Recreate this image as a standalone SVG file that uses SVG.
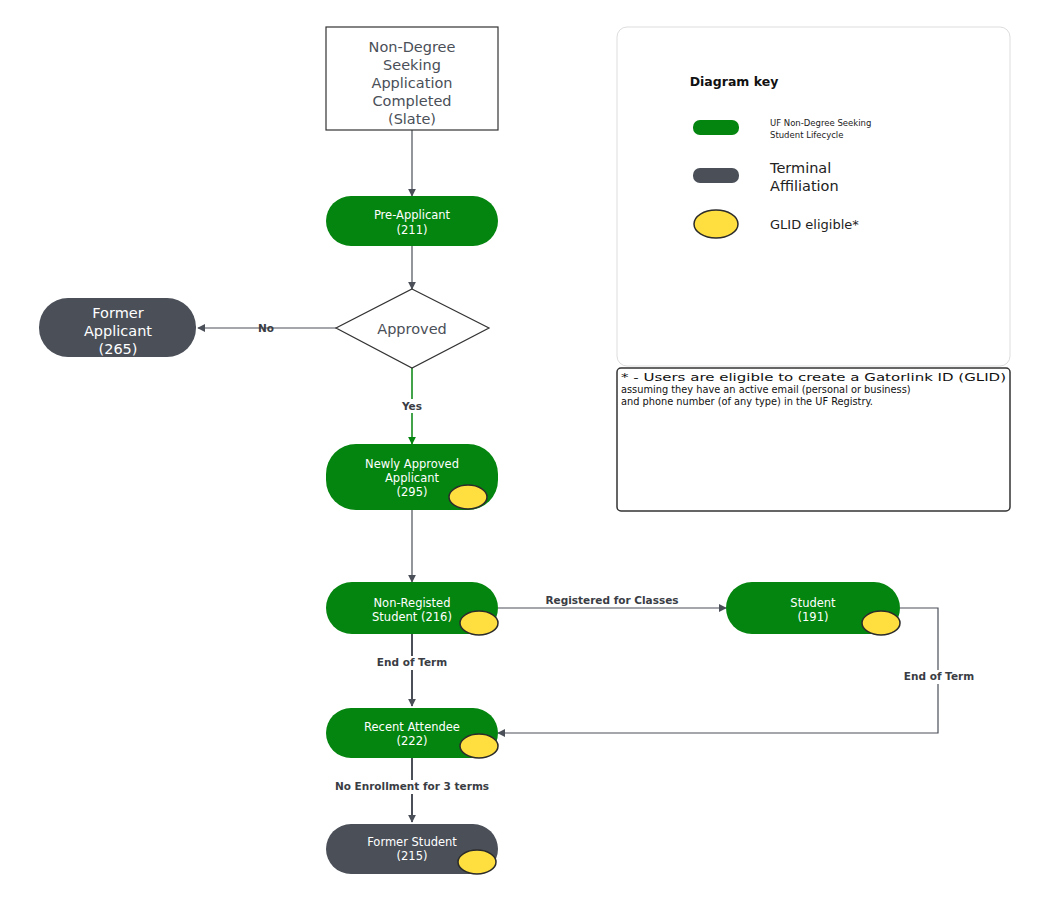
<svg xmlns="http://www.w3.org/2000/svg" width="1050" height="900" viewBox="0 0 1050 900">
<defs>
<style>
text{font-family:"DejaVu Sans","Liberation Sans",sans-serif;text-anchor:middle}
.g{fill:#04850f}
.d{fill:#4a4f58}
.w{fill:#fff;font-size:11.5px}
.wl{fill:#fff;font-size:14.5px}
.k{fill:#3a3d44;font-size:10.5px;font-weight:bold}
.y{fill:#ffdf3f;stroke:#2b2b2b;stroke-width:1.5}
.c{fill:none;stroke:#4a4f58;stroke-width:1.2}
.cb{fill:none;stroke:#4a4f58;stroke-width:2}
.n{font-size:9.8px;fill:#111;text-anchor:start}
</style>
<marker id="a" viewBox="0 0 10 10" refX="9" refY="5" markerWidth="8" markerHeight="8" markerUnits="userSpaceOnUse" orient="auto"><path d="M0,0L10,5L0,10z" fill="#4a4f58"/></marker>
<marker id="ag" viewBox="0 0 10 10" refX="9" refY="5" markerWidth="8" markerHeight="8" markerUnits="userSpaceOnUse" orient="auto"><path d="M0,0L10,5L0,10z" fill="#04850f"/></marker>
</defs>
<rect width="1050" height="900" fill="#fff"/>
<g id="connectors">
<path class="c" d="M412,130V196" marker-end="url(#a)"/>
<path class="c" d="M412,246V289" marker-end="url(#a)"/>
<path class="c" d="M336,328H198" marker-end="url(#a)"/>
<text class="k" x="266" y="332">No</text>
<path d="M412,368V444" fill="none" stroke="#04850f" stroke-width="1.5" marker-end="url(#ag)"/>
<rect x="395" y="399" width="34" height="14" fill="#fff"/>
<text class="k" x="412" y="410">Yes</text>
<path class="c" d="M412,510V582" marker-end="url(#a)"/>
<path class="c" d="M498,608H726" marker-end="url(#a)"/>
<text class="k" x="612" y="604">Registered for Classes</text>
<path class="cb" d="M412,634V706" marker-end="url(#a)"/>
<rect x="362" y="656" width="100" height="14" fill="#fff"/>
<text class="k" x="412" y="666">End of Term</text>
<path class="c" d="M900,608H938V733H498" marker-end="url(#a)"/>
<rect x="889" y="670" width="100" height="14" fill="#fff"/>
<text class="k" x="939" y="680">End of Term</text>
<path class="cb" d="M412,758V822" marker-end="url(#a)"/>
<rect x="308" y="780" width="208" height="14" fill="#fff"/>
<text class="k" x="412" y="790">No Enrollment for 3 terms</text>
</g>
<g id="n-app">
<rect x="326" y="27" width="172" height="103" fill="#fff" stroke="#333" stroke-width="1.2"/>
<text x="412" y="52" font-size="14.5" fill="#4a4f58">Non-Degree</text>
<text x="412" y="70" font-size="14.5" fill="#4a4f58">Seeking</text>
<text x="412" y="88" font-size="14.5" fill="#4a4f58">Application</text>
<text x="412" y="106" font-size="14.5" fill="#4a4f58">Completed</text>
<text x="412" y="124" font-size="14.5" fill="#4a4f58">(Slate)</text>
</g>
<g id="n-pre">
<rect class="g" x="326" y="196" width="172" height="50" rx="25"/>
<text class="w" x="412" y="219">Pre-Applicant</text>
<text class="w" x="412" y="234">(211)</text>
</g>
<g id="n-approved">
<path d="M412,289L489,328L412,368L336,328Z" fill="#fff" stroke="#333" stroke-width="1.2"/>
<text x="412" y="334" font-size="14.5" fill="#4a4f58">Approved</text>
</g>
<g id="n-former-app">
<rect class="d" x="39" y="298" width="157" height="59" rx="29"/>
<text class="wl" x="118" y="318">Former</text>
<text class="wl" x="118" y="336">Applicant</text>
<text class="wl" x="118" y="354">(265)</text>
</g>
<g id="n-newly">
<rect class="g" x="326" y="444" width="172" height="66" rx="30"/>
<text class="w" x="412" y="468">Newly Approved</text>
<text class="w" x="412" y="482">Applicant</text>
<text class="w" x="412" y="496">(295)</text>
<ellipse class="y" cx="468" cy="497" rx="19" ry="12"/>
</g>
<g id="n-nonreg">
<rect class="g" x="326" y="582" width="172" height="52" rx="26"/>
<text class="w" x="412" y="607">Non-Registed</text>
<text class="w" x="412" y="621">Student (216)</text>
<ellipse class="y" cx="479" cy="623" rx="19" ry="12"/>
</g>
<g id="n-student">
<rect class="g" x="726" y="582" width="174" height="52" rx="26"/>
<text class="w" x="813" y="607">Student</text>
<text class="w" x="813" y="621">(191)</text>
<ellipse class="y" cx="881" cy="623" rx="19" ry="12"/>
</g>
<g id="n-recent">
<rect class="g" x="326" y="708" width="172" height="50" rx="25"/>
<text class="w" x="412" y="731">Recent Attendee</text>
<text class="w" x="412" y="745">(222)</text>
<ellipse class="y" cx="479" cy="746" rx="19" ry="12"/>
</g>
<g id="n-former-stu">
<rect class="d" x="326" y="824" width="172" height="50" rx="25"/>
<text class="w" x="412" y="846">Former Student</text>
<text class="w" x="412" y="860">(215)</text>
<ellipse class="y" cx="477" cy="862" rx="19" ry="12"/>
</g>
<g id="key">
<rect x="617" y="27" width="393" height="339" rx="10" fill="#fff" stroke="#ddd"/>
<text x="734" y="86" font-size="12.5" font-weight="bold" fill="#111">Diagram key</text>
<rect class="g" x="693" y="120" width="46" height="15" rx="7"/>
<text x="770" y="126" font-size="8.5" fill="#222" style="text-anchor:start">UF Non-Degree Seeking</text>
<text x="770" y="138" font-size="8.5" fill="#222" style="text-anchor:start">Student Lifecycle</text>
<rect class="d" x="693" y="168" width="46" height="15" rx="7"/>
<text x="770" y="173" font-size="14.5" fill="#222" style="text-anchor:start">Terminal</text>
<text x="770" y="191" font-size="14.5" fill="#222" style="text-anchor:start">Affiliation</text>
<ellipse class="y" cx="716" cy="224" rx="22" ry="14"/>
<text x="770" y="229" font-size="13" fill="#222" style="text-anchor:start">GLID eligible*</text>
</g>
<g id="note">
<rect x="617" y="368" width="393" height="143" rx="4" fill="#fff" stroke="#333" stroke-width="1.5"/>
<text class="n" x="621" y="381" textLength="385" lengthAdjust="spacingAndGlyphs">* - Users are eligible to create a Gatorlink ID (GLID)</text>
<text class="n" x="621" y="393">assuming they have an active email (personal or business)</text>
<text class="n" x="621" y="405">and phone number (of any type) in the UF Registry.</text>
</g>
</svg>
